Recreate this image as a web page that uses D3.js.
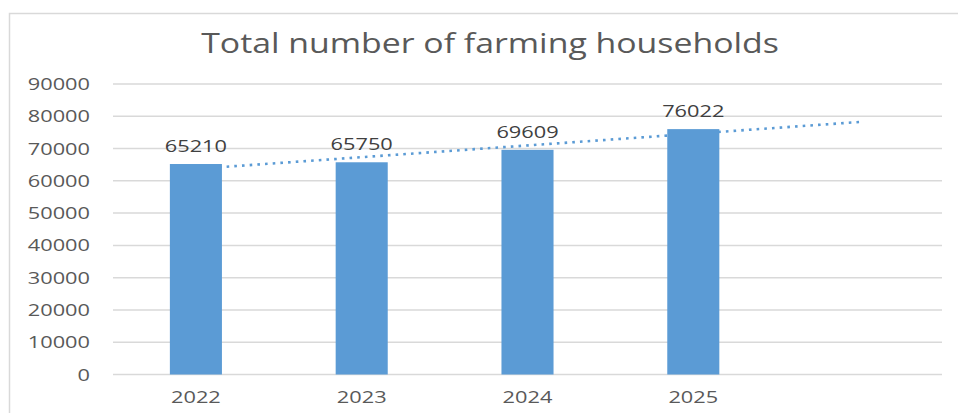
<!DOCTYPE html>
<html>
<head>
<meta charset="utf-8">
<script src="https://cdn.jsdelivr.net/npm/d3@7"></script>
<style>
  html, body { margin: 0; padding: 0; background: #fff; }
  svg { display: block; }
  text { font-family: "Open Sans", "Noto Sans", sans-serif; }
</style>
</head>
<body>
<svg id="chart" width="958" height="413"></svg>
<script>
// Farming households per year
const title = "Total number of farming households";
const years = ["2022", "2023", "2024", "2025"];
const households = [65210, 65750, 69609, 76022];
const yTicks = [0, 10000, 20000, 30000, 40000, 50000, 60000, 70000, 80000, 90000];
const forecastPeriods = 1; // linear trend extended one period forward

const svg = d3.select("#chart");
const W = 958, H = 413;
const plot = { left: 113, right: 942, top: 84, bottom: 374.5 };

// category slots: the data years plus the forecast slot(s)
const slots = d3.range(years.length + forecastPeriods).map(i => "s" + i);

const x = d3.scaleBand()
  .domain(slots)
  .range([plot.left, plot.right])
  .paddingInner(0.686)
  .paddingOuter(0.343);

const y = d3.scaleLinear()
  .domain([0, 90000])
  .range([plot.bottom, plot.top]);

const cx = i => x(slots[i]) + x.bandwidth() / 2;

// chart frame
svg.append("rect")
  .attr("x", 9.5).attr("y", 13.5)
  .attr("width", W + 20).attr("height", H + 20)
  .attr("fill", "#fff")
  .attr("stroke", "#d9d9d9").attr("stroke-width", 1.5);

// horizontally widened text helper
function label(g, tx, ty, str, anchor, size, color, sx) {
  return g.append("text")
    .attr("transform", `translate(${tx},${ty}) scale(${sx},1)`)
    .attr("text-anchor", anchor)
    .attr("font-size", size)
    .attr("fill", color)
    .text(str);
}

// title
label(svg, 490, 53, title, "middle", 27.5, "#595959", 1.23);

// gridlines
svg.append("g")
  .selectAll("line")
  .data(yTicks)
  .join("line")
  .attr("x1", plot.left).attr("x2", plot.right)
  .attr("y1", d => y(d)).attr("y2", d => y(d))
  .attr("stroke", "#d9d9d9").attr("stroke-width", 1.5);

// y axis labels
const yAxis = svg.append("g");
yTicks.forEach(t => label(yAxis, 90, y(t) + 6, String(t), "end", 16.5, "#595959", 1.32));

// x axis labels
const xAxis = svg.append("g");
years.forEach((yr, i) => label(xAxis, cx(i), 403, yr, "middle", 16.5, "#595959", 1.32));

// linear trendline (least squares over periods 1..n)
const n = households.length;
const xs = d3.range(1, n + 1);
const mx = d3.mean(xs), my = d3.mean(households);
const slope = d3.sum(xs, (v, i) => (v - mx) * (households[i] - my)) / d3.sum(xs, v => (v - mx) ** 2);
const intercept = my - slope * mx;
const trend = d3.range(1, n + forecastPeriods + 1).map(p => ({ i: p - 1, v: intercept + slope * p }));

svg.append("path")
  .datum([trend[0], trend[trend.length - 1]])
  .attr("d", d3.line().x(d => cx(d.i)).y(d => y(d.v)))
  .attr("fill", "none")
  .attr("stroke", "#5b9bd5")
  .attr("stroke-width", 2.6)
  .attr("stroke-dasharray", "2.6 5.1");

// bars
svg.append("g")
  .selectAll("rect")
  .data(households)
  .join("rect")
  .attr("x", (d, i) => x(slots[i]))
  .attr("width", x.bandwidth())
  .attr("y", d => y(d))
  .attr("height", d => y(0) - y(d))
  .attr("fill", "#5b9bd5");

// value labels
const vals = svg.append("g");
households.forEach((v, i) => label(vals, cx(i), y(v) - 12, String(v), "middle", 16.5, "#404040", 1.32));
</script>
</body>
</html>
